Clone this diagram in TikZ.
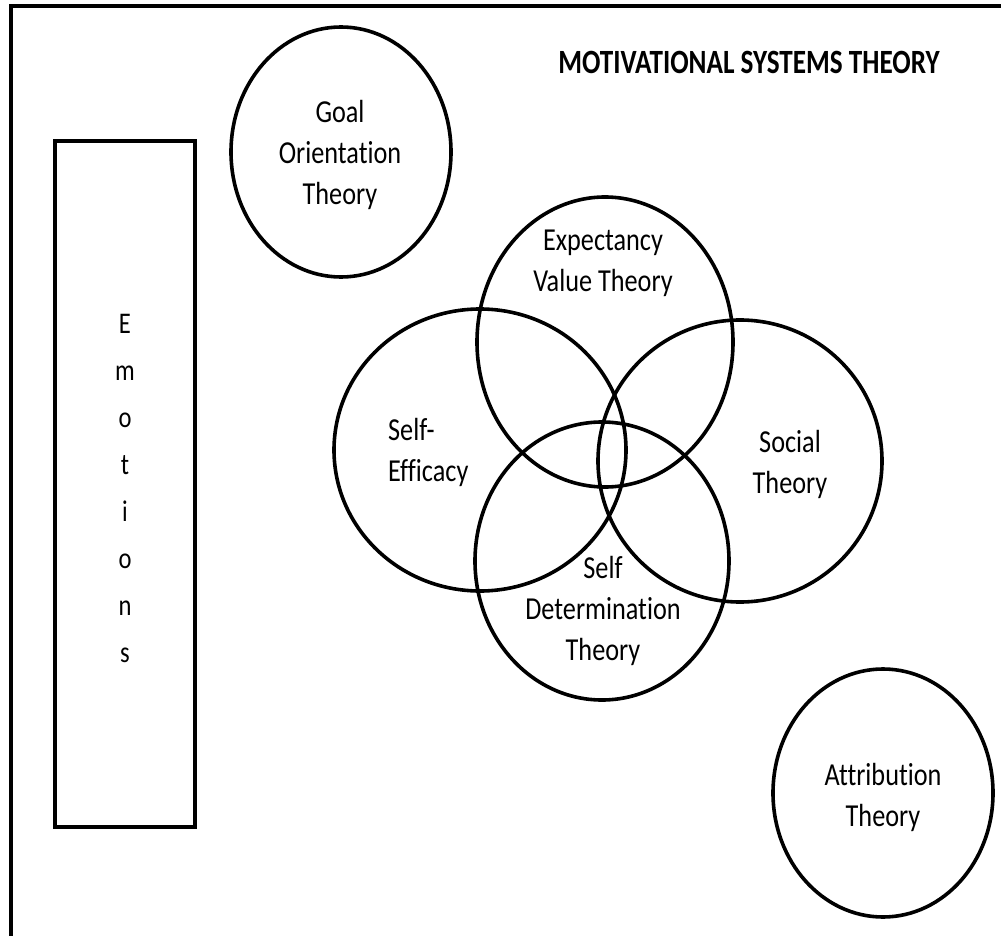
\documentclass[tikz,border=0pt]{standalone}
\usepackage{fontspec}
\setmainfont{Carlito}[FakeStretch=0.82, Ligatures={NoCommon}]
\newfontfamily\titlefont{Carlito}[FakeStretch=0.80, Ligatures={NoCommon}]
\usetikzlibrary{shapes.geometric}
\tikzset{
  ring/.style={draw=black, line width=3.6pt, ellipse, inner sep=0pt, outer sep=0pt},
  boxframe/.style={draw=black, line width=3.8pt},
  txt/.style={inner sep=0pt, align=center, font=\fontsize{32}{41}\selectfont},
  titletxt/.style={inner sep=0pt, font=\titlefont\bfseries\fontsize{34}{40}\selectfont}
}
\begin{document}
\begin{tikzpicture}[x=1pt, y=-1pt]
\useasboundingbox (0,0) rectangle (1001,936);
\fill[white] (0,0) rectangle (1001,936);
\begin{scope}
  \clip (0,0) rectangle (1001,936);
  \draw[boxframe] (11,6) rectangle (1040,980);
\end{scope}
% Emotions box
\node[boxframe, rectangle, minimum width=140pt, minimum height=686pt, inner sep=0pt, outer sep=0pt] (emobox) at (125,484) {};
\node[inner sep=0pt, align=center, font=\fontsize{30}{47}\selectfont] (emotxt) at (125,488) {E\\m\\o\\t\\i\\o\\n\\s};
% title
\node[titletxt] (title) at (749,62) {MOTIVATIONAL SYSTEMS THEORY};
% ellipses
\node[ring, minimum width=220pt, minimum height=250pt] (goal) at (341,152) {};
\node[ring, minimum width=256pt, minimum height=290pt] (expect) at (605,342) {};
\node[ring, minimum width=292pt, minimum height=282pt] (efficacy) at (480,450) {};
\node[ring, minimum width=284pt, minimum height=282pt] (social) at (740,461) {};
\node[ring, minimum width=254pt, minimum height=278pt] (selfdet) at (602,561) {};
\node[ring, minimum width=220pt, minimum height=248pt] (attrib) at (883,793) {};
% labels
\node[txt] (goaltxt) at (340,155) {Goal\\Orientation\\Theory};
\node[txt] (expecttxt) at (603,263) {Expectancy\\Value Theory};
\node[txt, align=left, anchor=west] (efftxt) at (388,452) {Self-\\Efficacy};
\node[txt] (socialtxt) at (790,464) {Social\\Theory};
\node[txt] (selfdettxt) at (603,611) {Self\\Determination\\Theory};
\node[txt] (attribtxt) at (883,797) {Attribution\\Theory};
\end{tikzpicture}
\end{document}
